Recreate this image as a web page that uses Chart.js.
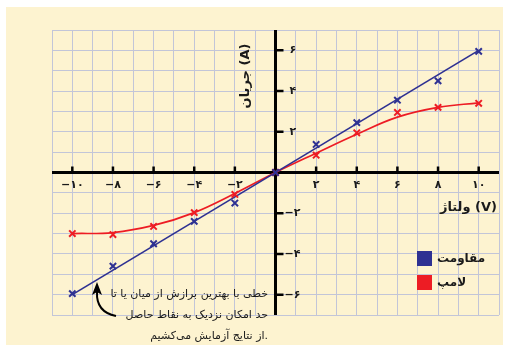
<!DOCTYPE html>
<html>
<head>
<meta charset="utf-8">
<script src="https://cdn.jsdelivr.net/npm/chart.js@4/dist/chart.umd.min.js"></script>
<style>
    html, body { margin: 0; padding: 0; background: #ffffff; }
    #wrap { position: relative; width: 525px; height: 348px; overflow: hidden; }
    #panel { position: absolute; left: 6px; top: 7px; width: 497px; height: 338px; background: #fdf3d0; }
    #myChart { position: absolute; left: 0; top: 0; }
</style>
</head>
<body>
<div id="wrap">
    <div id="panel"></div>
    <canvas id="myChart" width="525" height="348"></canvas>
</div>
<script>
// measured values (V, A)
const volts = [-10, -8, -6, -4, -2, 0, 2, 4, 6, 8, 10];
const resistorAmps = [-5.95, -4.6, -3.5, -2.4, -1.5, 0, 1.38, 2.45, 3.55, 4.5, 5.95];
const lampAmps = [-3.0, -3.05, -2.65, -1.97, -1.08, 0, 0.85, 1.95, 2.95, 3.2, 3.4];

// best fit lines
const resistorFitVolts = [-10, 10];
const resistorFitAmps = [-6, 6];
const lampFitVolts = [-10, -8, -6, -4, -2, 0, 2, 4, 6, 8, 10];
const lampFitAmps = [-3.0, -2.95, -2.6, -1.97, -1.03, 0, 0.95, 1.88, 2.72, 3.2, 3.42];

const xTicks = [-10, -8, -6, -4, -2, 2, 4, 6, 8, 10];
const yTicks = [-6, -4, -2, 2, 4, 6];

const seriesNames = ['مقاومت', 'لامپ'];
const xTitle = 'ولتاژ (V)';
const yTitle = 'جریان (A)';
const note = [
    'خطی با بهترین برازش از میان یا تا',
    'حد امکان نزدیک به نقاط حاصل',
    'از نتایج آزمایش می‌کشیم.'
];

const blue = '#2e3192';
const red = '#ed1c24';
const font = '"DejaVu Sans", "Noto Sans", sans-serif';

function toPersian(n){
    let s = String(Math.abs(n)).replace(/[0-9]/g, function(d){
        return '۰۱۲۳۴۵۶۷۸۹'[d];
    });
    return (n < 0 ? '\u2212' : '') + s;
}

function pairs(xs, ys){
    return xs.map(function(x, i){
        return {x: x, y: ys[i]};
    });
}

const axesPlugin = {
    id: 'axesPlugin',
    beforeDatasetsDraw: function(chart){
        const ctx = chart.ctx;
        const xs = chart.scales.x;
        const ys = chart.scales.y;
        const ox = xs.getPixelForValue(0);
        const oy = ys.getPixelForValue(0);
        const area = chart.chartArea;
        ctx.save();
        ctx.strokeStyle = '#000';
        ctx.lineWidth = 3;
        ctx.beginPath();
        ctx.moveTo(area.left, oy);
        ctx.lineTo(area.right, oy);
        ctx.moveTo(ox, area.top);
        ctx.lineTo(ox, area.bottom);
        ctx.stroke();

        // tick marks
        ctx.lineWidth = 2.5;
        ctx.beginPath();
        xTicks.forEach(function(v){
            const px = xs.getPixelForValue(v);
            ctx.moveTo(px, oy);
            ctx.lineTo(px, oy - 6);
        });
        yTicks.forEach(function(v){
            const py = ys.getPixelForValue(v);
            ctx.moveTo(ox, py);
            ctx.lineTo(ox + 8, py);
        });
        ctx.stroke();
        ctx.restore();
    },
    afterDatasetsDraw: function(chart){
        const ctx = chart.ctx;
        const xs = chart.scales.x;
        const ys = chart.scales.y;
        const ox = xs.getPixelForValue(0);
        const oy = ys.getPixelForValue(0);
        ctx.save();
        ctx.direction = 'ltr';
        ctx.fillStyle = '#1a1a1a';
        ctx.font = 'bold 11px ' + font;
        ctx.textBaseline = 'middle';

        ctx.textAlign = 'center';
        xTicks.forEach(function(v){
            ctx.fillText(toPersian(v), xs.getPixelForValue(v), oy + 13);
        });
        ctx.textAlign = 'left';
        yTicks.forEach(function(v){
            ctx.fillText(toPersian(v), ox + (v < 0 ? 9 : 14), ys.getPixelForValue(v));
        });

        // axis titles
        ctx.font = 'bold 13px ' + font;
        ctx.textAlign = 'right';
        ctx.fillText(xTitle, 497, 208);
        ctx.save();
        ctx.translate(246, 76);
        ctx.rotate(-Math.PI / 2);
        ctx.textAlign = 'center';
        ctx.fillText(yTitle, 0, 0);
        ctx.restore();

        // legend
        const colors = [blue, red];
        ctx.font = 'bold 12px ' + font;
        ctx.textAlign = 'left';
        seriesNames.forEach(function(name, i){
            const top = 251 + i * 24;
            ctx.fillStyle = colors[i];
            ctx.fillRect(417, top, 15, 15);
            ctx.fillStyle = '#1a1a1a';
            ctx.fillText(name, 437, top + 8);
        });

        // note with arrow
        ctx.font = '11px ' + font;
        ctx.textAlign = 'right';
        note.forEach(function(line, i){
            ctx.fillText(line, 268, 294 + i * 21);
        });
        ctx.strokeStyle = '#000';
        ctx.lineWidth = 2;
        ctx.beginPath();
        ctx.moveTo(116, 316);
        ctx.quadraticCurveTo(96, 312, 97, 292);
        ctx.stroke();
        ctx.fillStyle = '#000';
        ctx.beginPath();
        ctx.moveTo(97, 282);
        ctx.lineTo(92, 295);
        ctx.lineTo(97, 292);
        ctx.lineTo(102, 295);
        ctx.closePath();
        ctx.fill();
        ctx.restore();
    }
};

const ctx = document.getElementById('myChart');
const myChart = new Chart(ctx, {
    type: 'scatter',
    data: {
        datasets: [{
            label: seriesNames[0],
            data: pairs(volts, resistorAmps),
            borderColor: blue,
            backgroundColor: blue,
            pointStyle: 'crossRot',
            pointRadius: 4.5,
            pointBorderWidth: 2,
            showLine: false,
            order: 1
        }, {
            label: seriesNames[1],
            data: pairs(volts, lampAmps),
            borderColor: red,
            backgroundColor: red,
            pointStyle: 'crossRot',
            pointRadius: 4.5,
            pointBorderWidth: 2,
            showLine: false,
            order: 1
        }, {
            label: 'fit1',
            data: pairs(resistorFitVolts, resistorFitAmps),
            borderColor: blue,
            borderWidth: 1.7,
            pointRadius: 0,
            showLine: true,
            order: 2
        }, {
            label: 'fit2',
            data: pairs(lampFitVolts, lampFitAmps),
            borderColor: red,
            borderWidth: 1.7,
            pointRadius: 0,
            showLine: true,
            tension: 0.4,
            order: 2
        }]
    },
    options: {
        responsive: false,
        animation: false,
        layout: {
            padding: {left: 52, right: 26, top: 30, bottom: 33}
        },
        plugins: {
            legend: {display: false},
            tooltip: {enabled: false}
        },
        scales: {
            x: {
                type: 'linear',
                min: -11,
                max: 11,
                ticks: {display: false, stepSize: 1},
                border: {display: false},
                grid: {color: '#c2c5d8', lineWidth: 1, drawTicks: false}
            },
            y: {
                type: 'linear',
                min: -7,
                max: 7,
                ticks: {display: false, stepSize: 1},
                border: {display: false},
                grid: {color: '#c2c5d8', lineWidth: 1, drawTicks: false}
            }
        }
    },
    plugins: [axesPlugin]
});
</script>
</body>
</html>
